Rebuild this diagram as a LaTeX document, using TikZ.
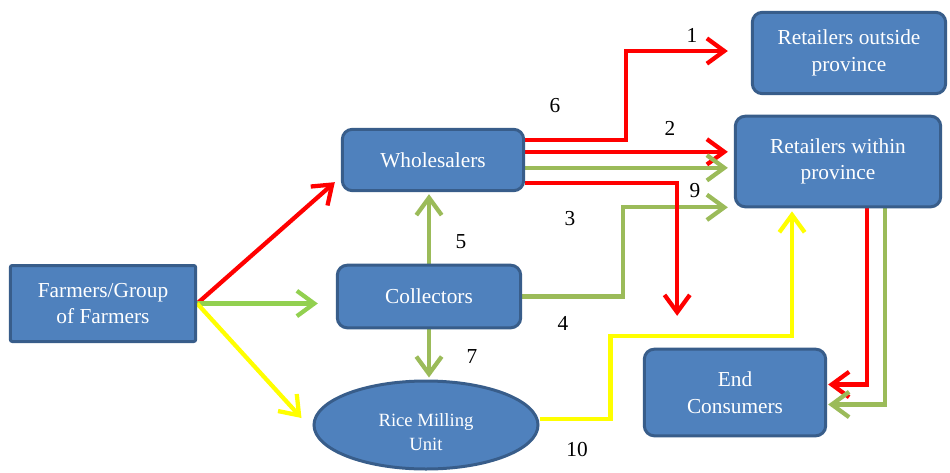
\documentclass[tikz,border=0pt]{standalone}
\usepackage{fontspec}
\setmainfont{LiberationSerif-Regular.ttf}[BoldFont=LiberationSerif-Bold.ttf]
\usetikzlibrary{arrows.meta,shapes.geometric,calc,backgrounds}
\definecolor{boxfill}{HTML}{4F81BD}
\definecolor{boxline}{HTML}{385D8A}
\definecolor{fred}{HTML}{FF0000}
\definecolor{fgreen}{HTML}{9BBB59}
\definecolor{lgreen}{HTML}{92D050}
\definecolor{fyellow}{HTML}{FFFF00}
\begin{document}
\begin{tikzpicture}[x=0.75pt,y=-0.75pt,
  box/.style={draw=boxline, fill=boxfill, line width=2.25pt, rounded corners=7.5pt,
    text=white, font=\fontsize{16}{20}\selectfont, align=center, inner sep=0pt},
  flow/.style={line width=3.2pt, -{Straight Barb[length=13pt,width=19pt]}},
  num/.style={font=\fontsize{16}{18}\selectfont, inner sep=0pt}]
\useasboundingbox (0,0) rectangle (950,472);

\node[box, rounded corners=1.5pt, minimum width=139pt, minimum height=57pt] (farm) at (103,303.5) {Farmers/Group\\of Farmers};
\node[box, minimum width=136pt, minimum height=46pt] (whole) at (433,160) {Wholesalers};
\node[box, minimum width=137.5pt, minimum height=47pt] (coll) at (429,296.5) {Collectors};
\node[box, ellipse, minimum width=168pt, minimum height=66pt] (rice) at (426,425) {};
\node[text=white, font=\fontsize{14}{18}\selectfont, align=center, inner sep=0pt] (ricetext) at ($(rice.center)+(0,7)$) {Rice Milling\\Unit};
\node[box, minimum width=145pt, minimum height=61pt] (retout) at (849,53) {Retailers outside\\province};
\node[box, minimum width=154pt, minimum height=68pt] (retin) at (838,161.5) {Retailers within\\province};
\node[box, minimum width=136pt, minimum height=65pt] (endc) at (735,392.5) {End\\Consumers};

\coordinate (w1) at ($(whole.north east)+(0,12)$);
\coordinate (w2) at ($(whole.north east)+(0,24)$);
\coordinate (w3) at ($(whole.north east)+(0,40)$);
\coordinate (w4) at ($(whole.north east)+(0,55)$);
\coordinate (r1) at ($(rice.east)+(0,-6)$);

\begin{scope}[on background layer]
\draw[flow, fred] (farm.east) -- ($(whole.south west)+(-6,-10)$);
\draw[flow, lgreen] (farm.east) -- ($(coll.west |- farm.east)+(-18,0)$);
\draw[flow, fyellow] (farm.east) -- ($(rice.west)+(-11,-7)$);
\draw[flow, fred] (w1) -- ++(101,0) |- ($(retout.west)+(-23,-2)$);
\draw[flow, fred, shorten >=4.5pt] (w2) -- (w2 -| retin.west);
\draw[flow, fgreen, shorten >=4.5pt] (w3) -- (w3 -| retin.west);
\draw[flow, fgreen] (coll.east) -- ++(101,0) |- ($(retin.south west)+(-6,-1)$);
\draw[flow, fred] (w4) -- ++(152,0) -- ++(0,133);
\draw[flow, fgreen, shorten >=1.5pt] (coll.north) -- (coll.north |- whole.south);
\draw[flow, fgreen, shorten >=1.5pt] (coll.south) -- (coll.south |- rice.north);
\draw[flow, fyellow] (r1) -- ++(71,0) |- ($(retin.south)+(-46,128)$) -- ($(retin.south)+(-46,3)$);
\draw[flow, fred] ($(retin.south)+(29,0)$) |- ($(endc.east)+(1,-8)$);
\draw[flow, fgreen] ($(retin.south)+(47,0)$) |- ($(endc.east)+(1,12)$);
\end{scope}

\node[num] (n1) at (692,35) {1};
\node[num] (n2) at (670,128) {2};
\node[num] (n3) at (570,219) {3};
\node[num] (n4) at (563,323) {4};
\node[num] (n5) at (461,242) {5};
\node[num] (n6) at (555,106) {6};
\node[num] (n7) at (472,357) {7};
\node[num] (n9) at (695,191) {9};
\node[num] (n10) at (577,450) {10};
\end{tikzpicture}
\end{document}
